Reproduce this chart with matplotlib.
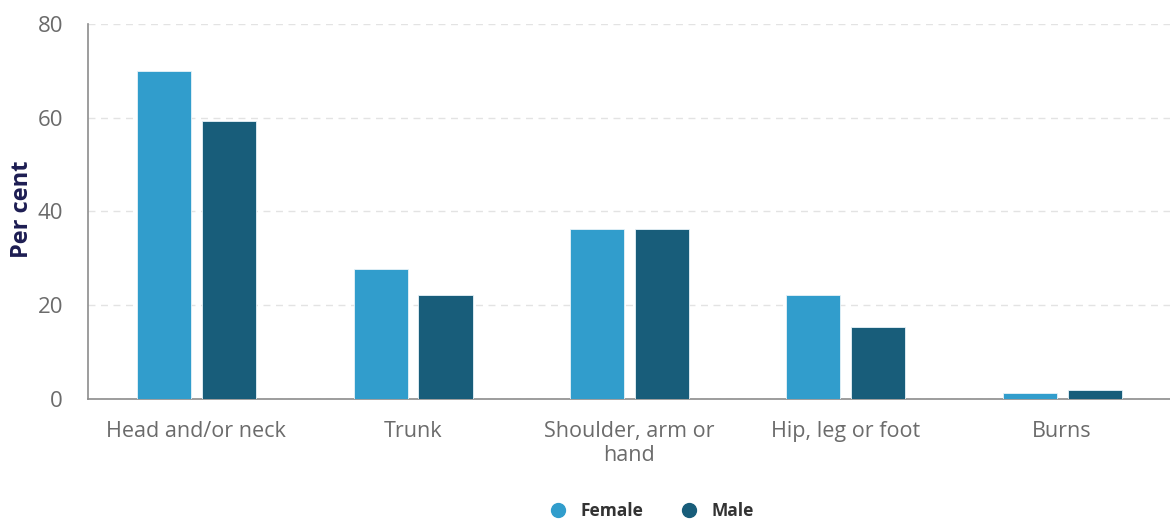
import numpy as np
import matplotlib.pyplot as plt
from matplotlib.lines import Line2D

plt.rcParams['font.family'] = ['Open Sans', 'DejaVu Sans']

categories = ["Head and/or neck", "Trunk", "Shoulder, arm or\nhand", "Hip, leg or foot", "Burns"]
female = [70.0, 27.7, 36.3, 22.2, 1.3]
male = [59.3, 22.2, 36.3, 15.4, 1.9]

c_female = "#319dcc"
c_male = "#185d7a"

fig = plt.figure(figsize=(11.7, 5.19), dpi=100)
ax = fig.add_axes([0.0752, 0.2312, 0.9248, 0.7226])

x = np.arange(len(categories))
w = 0.25
ax.bar(x - 0.148, female, w, color=c_female, edgecolor="#e8f3f8", linewidth=0.6, zorder=3)
ax.bar(x + 0.152, male, w, color=c_male, edgecolor="#e8f3f8", linewidth=0.6, zorder=3)

ax.set_xlim(-0.5, 4.5)
ax.set_ylim(0, 80)
ax.set_yticks([0, 20, 40, 60, 80])
ax.grid(axis='y', color="#e3e3e3", linestyle=(0, (5, 4)), linewidth=1, zorder=0)

for s in ['top', 'right']:
    ax.spines[s].set_visible(False)
ax.spines['left'].set_color("#8c8c8c")
ax.spines['bottom'].set_color("#8c8c8c")
ax.spines['left'].set_linewidth(1.2)
ax.spines['bottom'].set_linewidth(1.2)

ax.set_xticks(x)
ax.set_xticklabels(categories, fontsize=15.5, color="#6b6b6b", linespacing=1.15)
ax.tick_params(axis='x', length=0, pad=16)
ax.tick_params(axis='y', length=0, pad=18, labelsize=16, labelcolor="#6b6b6b")

# axis title, placed by hand so it is not cut at the left edge
ax.set_ylabel("Per cent", fontsize=17, fontweight='bold', color="#1d1d52")
ax.yaxis.set_label_coords(-0.05, 0.505)

handles = [Line2D([], [], marker='o', linestyle='', color=c_female, markersize=10),
           Line2D([], [], marker='o', linestyle='', color=c_male, markersize=10)]
fig.legend(handles, ["Female", "Male"], loc='center', bbox_to_anchor=(0.553, 0.016),
           ncol=2, frameon=False, handletextpad=0.3, columnspacing=1.6,
           prop={'size': 12.5, 'weight': 'bold'}, labelcolor="#333333")

fig.savefig("out.png", dpi=100)
